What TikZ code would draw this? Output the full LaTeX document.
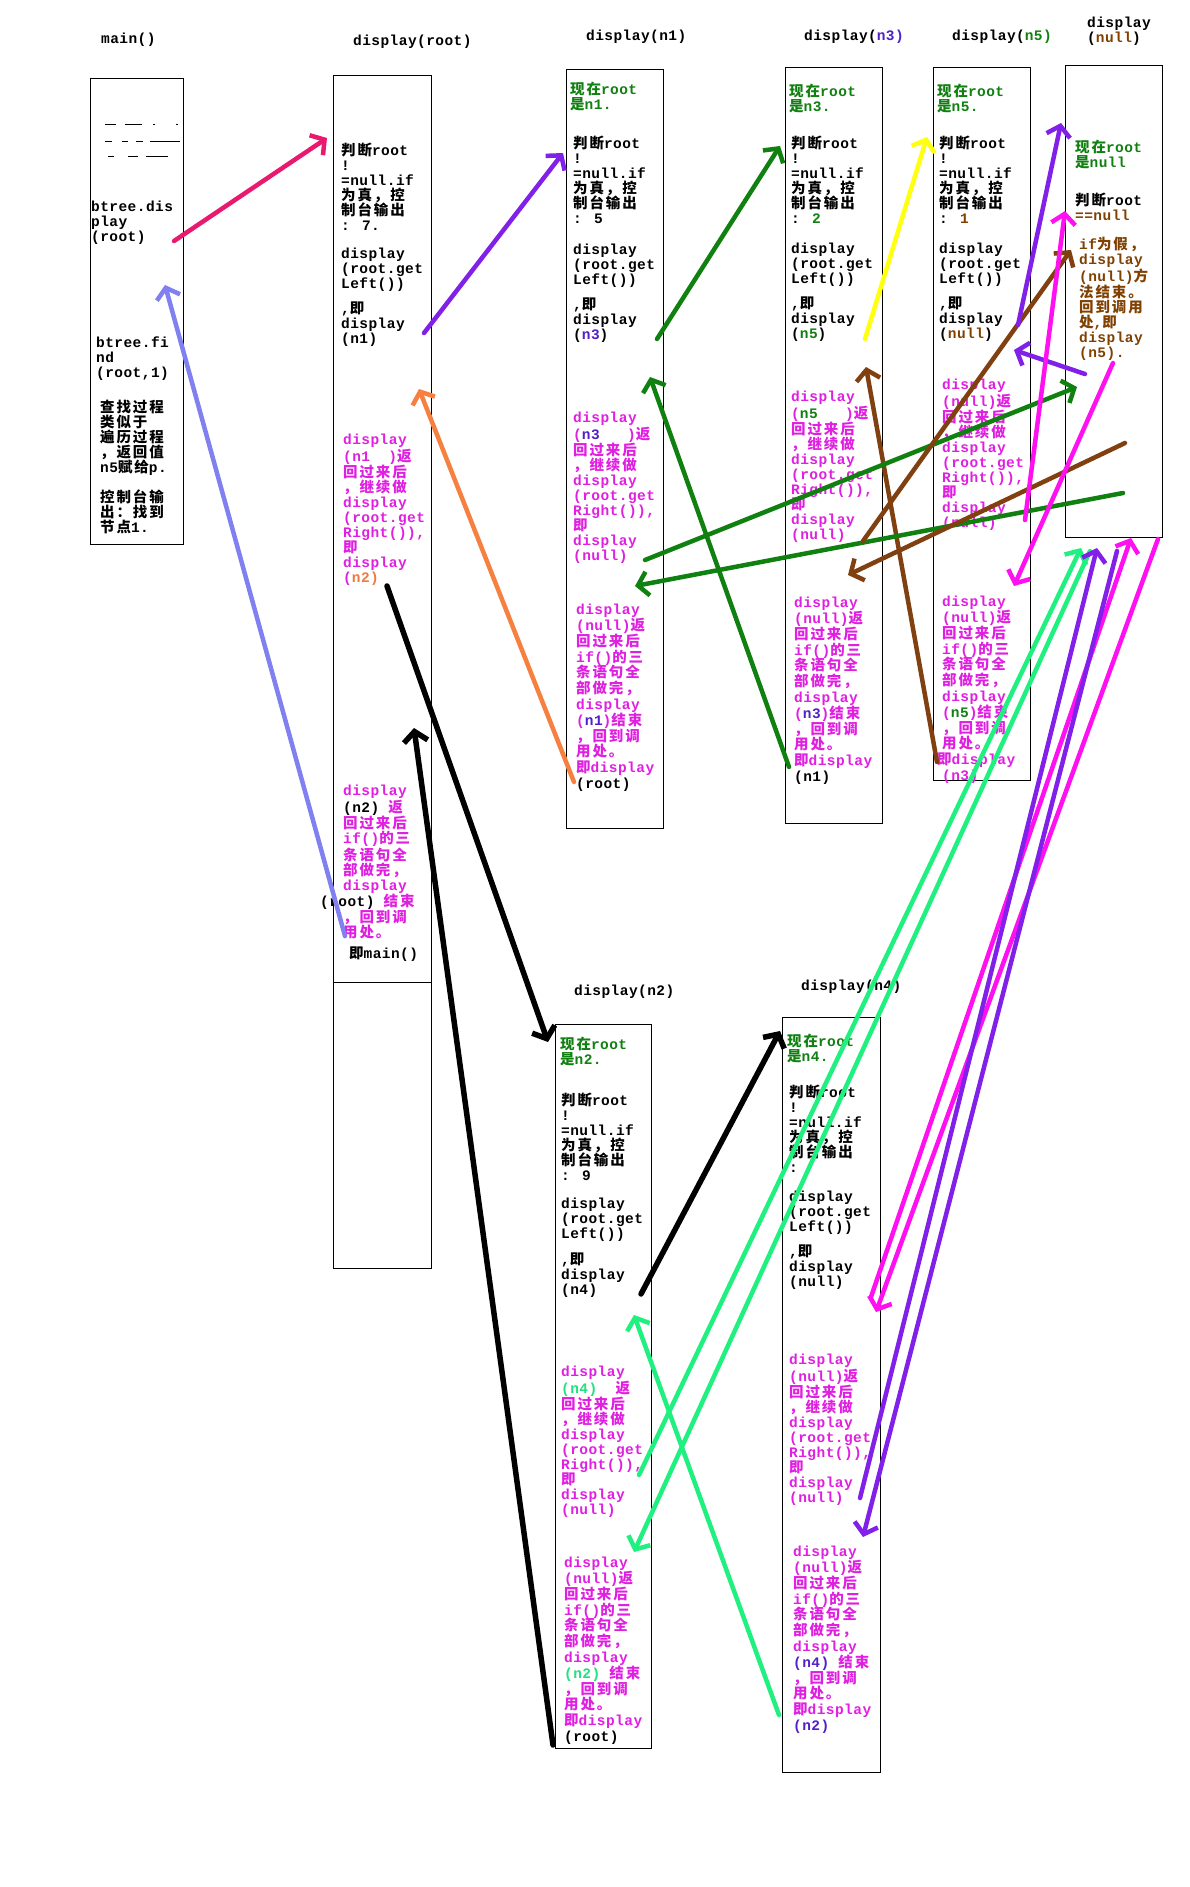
\documentclass[tikz,border=0pt]{standalone}
\usepackage{fontspec}
\newfontfamily\monofam[LetterSpace=3]{Liberation Mono}
\newfontfamily\cjkfam[LetterSpace=13]{Noto Sans CJK SC}
\usepackage{xcolor}
\usepackage{tikz}
\usetikzlibrary{arrows.meta}
% switch to the CJK font for Chinese characters
\XeTeXinterchartokenstate=1
\newXeTeXintercharclass\cjkclass
\newcount\cjkcode
\newcommand\setcjkrange[2]{%
  \cjkcode=#1\relax
  \loop
    \XeTeXcharclass\cjkcode=\cjkclass
    \advance\cjkcode by 1
  \ifnum\cjkcode<#2\relax\repeat}
\setcjkrange{"3000}{"3040}
\setcjkrange{"4E00}{"A000}
\setcjkrange{"FF00}{"FFF0}
\XeTeXinterchartoks 0 \cjkclass = {\cjkfam}
\XeTeXinterchartoks 4095 \cjkclass = {\cjkfam}
\XeTeXinterchartoks \cjkclass 0 = {\monofam}
\XeTeXinterchartoks \cjkclass 4095 = {\monofam}
\newcommand\codefont{\monofam\bfseries\fontsize{14.5}{15}\selectfont}
\newcommand\loosefont{\monofam\bfseries\fontsize{14.5}{15.8}\selectfont}
\definecolor{rosearr}{HTML}{E8196E}
\definecolor{lavarr}{HTML}{8080F0}
\definecolor{violarr}{HTML}{8020E8}
\definecolor{orangearr}{HTML}{F58040}
\definecolor{forestarr}{HTML}{108010}
\definecolor{lemonarr}{HTML}{FFFF10}
\definecolor{umberarr}{HTML}{804010}
\definecolor{fuchsarr}{HTML}{FF10F0}
\definecolor{springarr}{HTML}{20F080}
\definecolor{txtpink}{HTML}{E020E0}
\definecolor{txtgreen}{HTML}{108010}
\definecolor{txtpurple}{HTML}{5020C8}
\definecolor{txtbrown}{HTML}{804000}
\definecolor{txtorange}{HTML}{F07840}
\definecolor{txtspring}{HTML}{20E080}
\tikzset{
  callbox/.style={draw=black,line width=1pt},
  txt/.style={anchor=north west,inner sep=0pt,align=left,font=\codefont},
  loose/.style={font=\loosefont},
  title/.style={anchor=west,inner sep=0pt,font=\codefont},
  paint/.style={line width=4.5pt,line cap=round,-{Straight Barb[length=10pt,width=24pt]}}
}
\begin{document}
\begin{tikzpicture}[x=1pt,y=-1pt]
  \fill[white] (0,0) rectangle (1190,1887);
  \useasboundingbox (0,0) rectangle (1190,1887);
  % titles
  \node[title] (tmain) at (101,40) {main()};
  \node[title] (troot) at (353,42) {display(root)};
  \node[title] (tn1) at (586,37) {display(n1)};
  \node[title] (tn3) at (804,37) {display({\color{txtpurple}n3)}};
  \node[title] (tn5) at (952,37) {display({\color{txtgreen}n5)}};
  \node[txt] (tnull) at (1087,17) {display\\({\color{txtbrown}null})};
  \node[title] (tn2) at (574,992) {display(n2)};
  \node[title] (tn4) at (801,987) {display(n4)};
  % frames
  \draw[callbox] (90,78) rectangle (183,544);
  \draw[callbox] (333,75) rectangle (431,1268);
  \draw[callbox] (333,982) -- (431,982);
  \draw[callbox] (566,69) rectangle (663,828);
  \draw[callbox] (785,67) rectangle (882,823);
  \draw[callbox] (933,67) rectangle (1030,780);
  \draw[callbox] (1065,65) rectangle (1162,537);
  \draw[callbox] (555,1024) rectangle (651,1748);
  \draw[callbox] (782,1017) rectangle (880,1772);
  % main()
  \foreach \a/\b/\y in {105/116/124,125/142/124,153/155/124,176/178/124,
    105/112/141,122/128/141,136/143/141,150/180/141,
    108/114/156,128/138/156,146/168/156}
    \draw[line width=.8pt] (\a,\y) -- (\b,\y);
  \node[txt] (mcall) at (91,201) {btree.dis\\play\\(root)};
  \node[txt] (mfind) at (96,337) {btree.fi\\nd\\(root,1)};
  \node[txt] (mnote) at (100,400) {查找过程\\类似于\\遍历过程\\，返回值\\n5赋给p.};
  \node[txt] (mout) at (100,490) {控制台输\\出：找到\\节点1.};
  % display(root)
  \node[txt] (rjudge) at (341,143) {判断root\\!\\=null.if\\为真，控\\制台输出\\: 7.};
  \node[txt] (rleft) at (341,248) {display\\(root.get\\Left())};
  \node[txt] (rcall) at (341,302) {,即\\display\\(n1)};
  \node[txt,text=txtpink] (rback) at (343,434) {display\\(n1\ \ )返\\回过来后\\，继续做\\display\\(root.get\\Right()),\\即\\display\\({\color{txtorange}n2)}};
  \node[txt,text=txtpink] (rdone) at (343,785) {display\\{\color{black}(n2)} 返\\回过来后\\if()的三\\条语句全\\部做完，\\display\\\hspace*{-23pt}{\color{black}(root)} 结束\\，回到调\\用处。};
  \node[txt] (rmain) at (349,947) {即main()};
  % display(n1)
  \node[txt,text=txtgreen] (anow) at (570,82) {现在root\\是n1.};
  \node[txt] (ajudge) at (573,136) {判断root\\!\\=null.if\\为真，控\\制台输出\\: 5};
  \node[txt] (aleft) at (573,244) {display\\(root.get\\Left())};
  \node[txt] (acall) at (573,298) {,即\\display\\({\color{txtpurple}n3})};
  \node[txt,text=txtpink] (aback) at (573,412) {display\\({\color{txtpurple}n3}\ \ \ )返\\回过来后\\，继续做\\display\\(root.get\\Right()),\\即\\display\\(null)};
  \node[txt,text=txtpink,loose] (adone) at (576,604) {display\\(null)返\\回过来后\\if()的三\\条语句全\\部做完，\\display\\({\color{txtpurple}n1})结束\\，回到调\\用处。\\即display\\{\color{black}(root)}};
  % display(n3)
  \node[txt,text=txtgreen] (bnow) at (789,84) {现在root\\是n3.};
  \node[txt] (bjudge) at (791,136) {判断root\\!\\=null.if\\为真，控\\制台输出\\: {\color{txtgreen}2}};
  \node[txt] (bleft) at (791,243) {display\\(root.get\\Left())};
  \node[txt] (bcall) at (791,297) {,即\\display\\({\color{txtgreen}n5})};
  \node[txt,text=txtpink] (bback) at (791,391) {display\\({\color{txtgreen}n5}\ \ \ )返\\回过来后\\，继续做\\display\\(root.get\\Right()),\\即\\display\\(null)};
  \node[txt,text=txtpink,loose] (bdone) at (794,597) {display\\(null)返\\回过来后\\if()的三\\条语句全\\部做完，\\display\\({\color{txtpurple}n3})结束\\，回到调\\用处。\\即display\\{\color{black}(n1)}};
  % display(n5)
  \node[txt,text=txtgreen] (cnow) at (937,84) {现在root\\是n5.};
  \node[txt] (cjudge) at (939,136) {判断root\\!\\=null.if\\为真，控\\制台输出\\: {\color{txtbrown}1}};
  \node[txt] (cleft) at (939,243) {display\\(root.get\\Left())};
  \node[txt] (ccall) at (939,297) {,即\\display\\({\color{txtbrown}null})};
  \node[txt,text=txtpink] (cback) at (942,379) {display\\(null)返\\回过来后\\，继续做\\display\\(root.get\\Right()),\\即\\display\\(null)};
  \node[txt,text=txtpink,loose] (cdone) at (942,596) {display\\(null)返\\回过来后\\if()的三\\条语句全\\部做完，\\display\\({\color{txtgreen}n5})结束\\，回到调\\用处。\\\hspace*{-5pt}即display\\(n3)};
  % display(null)
  \node[txt,text=txtgreen] (dnow) at (1075,140) {现在root\\是null};
  \node[txt] (djudge) at (1075,193) {判断root\\{\color{txtbrown}==null}};
  \node[txt,text=txtbrown] (dend) at (1079,237) {if为假，\\display\\(null)方\\法结束。\\回到调用\\处,即\\display\\(n5).};
  % display(n2)
  \node[txt,text=txtgreen] (enow) at (560,1037) {现在root\\是n2.};
  \node[txt] (ejudge) at (561,1093) {判断root\\!\\=null.if\\为真，控\\制台输出\\: 9};
  \node[txt] (eleft) at (561,1198) {display\\(root.get\\Left())};
  \node[txt] (ecall) at (561,1253) {,即\\display\\(n4)};
  \node[txt,text=txtpink] (eback) at (561,1366) {display\\{\color{txtspring}(n4)}\ \ 返\\回过来后\\，继续做\\display\\(root.get\\Right()),\\即\\display\\(null)};
  \node[txt,text=txtpink,loose] (edone) at (564,1557) {display\\(null)返\\回过来后\\if()的三\\条语句全\\部做完，\\display\\{\color{txtspring}(n2)} 结束\\，回到调\\用处。\\即display\\{\color{black}(root)}};
  % display(n4)
  \node[txt,text=txtgreen] (fnow) at (787,1034) {现在root\\是n4.};
  \node[txt] (fjudge) at (789,1085) {判断root\\!\\=null.if\\为真，控\\制台输出\\:};
  \node[txt] (fleft) at (789,1191) {display\\(root.get\\Left())};
  \node[txt] (fcall) at (789,1245) {,即\\display\\(null)};
  \node[txt,text=txtpink] (fback) at (789,1354) {display\\(null)返\\回过来后\\，继续做\\display\\(root.get\\Right()),\\即\\display\\(null)};
  \node[txt,text=txtpink,loose] (fdone) at (793,1546) {display\\(null)返\\回过来后\\if()的三\\条语句全\\部做完，\\display\\{\color{txtpurple}(n4)} 结束\\，回到调\\用处。\\即display\\{\color{txtpurple}(n2)}};
  % arrow ends
  \coordinate (callRootFrom) at (174,241);  \coordinate (callRootTo) at (327,138);
  \coordinate (backMainFrom) at (345,936);  \coordinate (backMainTo) at (165,285);
  \coordinate (callN1From) at (424,333);    \coordinate (callN1To) at (563,153);
  \coordinate (backRootFrom) at (574,782);  \coordinate (backRootTo) at (419,389);
  \coordinate (callN2From) at (387,586);    \coordinate (callN2To) at (548,1042);
  \coordinate (backRootBFrom) at (553,1745); \coordinate (backRootBTo) at (414,728);
  \coordinate (callN3From) at (657,339);    \coordinate (callN3To) at (780,146);
  \coordinate (backN1From) at (789,767);    \coordinate (backN1To) at (650,377);
  \coordinate (callN5From) at (865,339);    \coordinate (callN5To) at (927,137);
  \coordinate (backN3From) at (937,762);    \coordinate (backN3To) at (866,367);
  \coordinate (n1NullFrom) at (645,560);    \coordinate (n1NullTo) at (1077,387);
  \coordinate (n1BackFrom) at (1123,493);   \coordinate (n1BackTo) at (635,586);
  \coordinate (n3NullFrom) at (863,541);    \coordinate (n3NullTo) at (1071,250);
  \coordinate (n3BackFrom) at (1125,443);   \coordinate (n3BackTo) at (848,575);
  \coordinate (n5LNullFrom) at (1018,325);  \coordinate (n5LNullTo) at (1061,123);
  \coordinate (n5LBackFrom) at (1085,374);  \coordinate (n5LBackTo) at (1014,350);
  \coordinate (n5RNullFrom) at (1025,520);  \coordinate (n5RNullTo) at (1065,211);
  \coordinate (n5RBackFrom) at (1113,363);  \coordinate (n5RBackTo) at (1014,586);
  \coordinate (callN4From) at (641,1294);   \coordinate (callN4To) at (780,1031);
  \coordinate (n2NullFrom) at (639,1475);   \coordinate (n2NullTo) at (1081,548);
  \coordinate (n2BackFrom) at (1090,551);   \coordinate (n2BackTo) at (634,1552);
  \coordinate (n4BackFrom) at (779,1715);   \coordinate (n4BackTo) at (634,1315);
  \coordinate (n4LNullFrom) at (871,1297);  \coordinate (n4LNullTo) at (1131,538);
  \coordinate (n4LBackFrom) at (1158,539);  \coordinate (n4LBackTo) at (876,1312);
  \coordinate (n4RNullFrom) at (860,1498);  \coordinate (n4RNullTo) at (1097,548);
  \coordinate (n4RBackFrom) at (1117,551);  \coordinate (n4RBackTo) at (863,1537);
  % calls and returns
  \draw[paint,rosearr] (callRootFrom) -- (callRootTo);
  \draw[paint,lavarr] (backMainFrom) -- (backMainTo);
  \draw[paint,violarr] (callN1From) -- (callN1To);
  \draw[paint,orangearr] (backRootFrom) -- (backRootTo);
  \draw[paint,black,line width=5.5pt] (callN2From) -- (callN2To);
  \draw[paint,black,line width=5.5pt] (backRootBFrom) -- (backRootBTo);
  \draw[paint,forestarr] (callN3From) -- (callN3To);
  \draw[paint,forestarr] (backN1From) -- (backN1To);
  \draw[paint,lemonarr] (callN5From) -- (callN5To);
  \draw[paint,umberarr] (backN3From) -- (backN3To);
  \draw[paint,forestarr] (n1NullFrom) -- (n1NullTo);
  \draw[paint,forestarr] (n1BackFrom) -- (n1BackTo);
  \draw[paint,umberarr] (n3NullFrom) -- (n3NullTo);
  \draw[paint,umberarr] (n3BackFrom) -- (n3BackTo);
  \draw[paint,violarr] (n5LNullFrom) -- (n5LNullTo);
  \draw[paint,violarr] (n5LBackFrom) -- (n5LBackTo);
  \draw[paint,fuchsarr] (n5RNullFrom) -- (n5RNullTo);
  \draw[paint,fuchsarr] (n5RBackFrom) -- (n5RBackTo);
  \draw[paint,black,line width=5.5pt] (callN4From) -- (callN4To);
  \draw[paint,springarr] (n2NullFrom) -- (n2NullTo);
  \draw[paint,springarr] (n2BackFrom) -- (n2BackTo);
  \draw[paint,springarr] (n4BackFrom) -- (n4BackTo);
  \draw[paint,fuchsarr] (n4LNullFrom) -- (n4LNullTo);
  \draw[paint,fuchsarr] (n4LBackFrom) -- (n4LBackTo);
  \draw[paint,violarr] (n4RNullFrom) -- (n4RNullTo);
  \draw[paint,violarr] (n4RBackFrom) -- (n4RBackTo);
\end{tikzpicture}
\end{document}
